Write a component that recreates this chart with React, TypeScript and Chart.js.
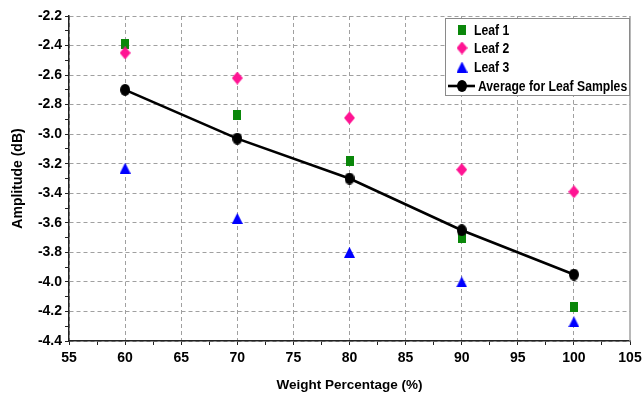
import React, { useEffect, useRef } from 'react';
import { Chart, registerables } from 'chart.js';

Chart.register(...registerables);

// ---- data ----
const weights = [60, 70, 80, 90, 100];
const leaf1 = [-2.39, -2.87, -3.18, -3.7, -4.17];
const leaf2 = [-2.45, -2.62, -2.89, -3.24, -3.39];
const leaf3 = [-3.23, -3.57, -3.8, -4.0, -4.27];
const average = [-2.7, -3.03, -3.3, -3.65, -3.95];
const seriesNames = ['Leaf 1', 'Leaf 2', 'Leaf 3', 'Average for Leaf Samples'];
const xTitle = 'Weight Percentage (%)';
const yTitle = 'Amplitude (dB)';
const xMin = 55;
const xMax = 105;
const xMajor = 5;
const xMinor = 2.5;
const yMin = -4.4;
const yMax = -2.2;
const yMajor = 0.2;
const yMinor = 0.1;

const FONT = '"Liberation Sans", Arial, sans-serif';
const GRID = '#a0a0a0';

const isMultiple = (v: number, step: number) => {
  const r = v / step;
  return Math.abs(r - Math.round(r)) < 1e-6;
};

const makeTicks = (min: number, max: number, step: number) => {
  const out: { value: number }[] = [];
  const n = Math.round((max - min) / step);
  for (let i = 0; i <= n; i++) out.push({ value: +(min + i * step).toFixed(4) });
  return out;
};

const toPts = (ys: number[]) => weights.map((x, i) => ({ x, y: ys[i] }));

function makeMarker(shape: string, w: number, h: number, color: string): HTMLCanvasElement {
  const c = document.createElement('canvas');
  c.width = w;
  c.height = h;
  const ctx = c.getContext('2d')!;
  ctx.fillStyle = color;
  ctx.beginPath();
  if (shape === 'square') {
    ctx.rect(0, 0, w, h);
  } else if (shape === 'diamond') {
    ctx.moveTo(w / 2, 0);
    ctx.lineTo(w, h / 2);
    ctx.lineTo(w / 2, h);
    ctx.lineTo(0, h / 2);
    ctx.closePath();
  } else if (shape === 'triangle') {
    ctx.moveTo(w / 2, 0);
    ctx.lineTo(w, h);
    ctx.lineTo(0, h);
    ctx.closePath();
  } else {
    ctx.ellipse(w / 2, h / 2, w / 2, h / 2, 0, 0, Math.PI * 2);
  }
  ctx.fill();
  return c;
}

const overlayPlugin = {
  id: 'overlay',
  afterDatasetsDraw(chart: any) {
    const { ctx, chartArea } = chart;
    ctx.save();
    // solid right frame
    ctx.strokeStyle = GRID;
    ctx.lineWidth = 1.5;
    ctx.beginPath();
    ctx.moveTo(chartArea.right, chartArea.top);
    ctx.lineTo(chartArea.right, chartArea.bottom);
    ctx.stroke();

    // legend box
    const bx = chartArea.right - 185;
    const by = chartArea.top + 2;
    const bw = 184;
    const bh = 77;
    ctx.fillStyle = '#ffffff';
    ctx.fillRect(bx, by, bw, bh);
    ctx.strokeStyle = '#8a8a8a';
    ctx.lineWidth = 1;
    ctx.strokeRect(bx + 0.5, by + 0.5, bw, bh);

    const rowY = [by + 12, by + 30, by + 49, by + 68];
    chart.data.datasets.forEach((ds: any, i: number) => {
      const y = rowY[i];
      const sx = bx + 17;
      if (ds.showLine) {
        ctx.strokeStyle = ds.borderColor;
        ctx.lineWidth = ds.borderWidth;
        ctx.beginPath();
        ctx.moveTo(bx + 3, y);
        ctx.lineTo(bx + 30, y);
        ctx.stroke();
      }
      const img = ds.pointStyle as HTMLCanvasElement;
      ctx.drawImage(img, sx - img.width / 2, y - img.height / 2);
      const tx = ds.showLine ? bx + 33 : bx + 29;
      ctx.save();
      ctx.font = `bold 14px ${FONT}`;
      ctx.fillStyle = '#000';
      ctx.textBaseline = 'middle';
      ctx.translate(tx, y);
      ctx.scale(0.87, 1);
      ctx.fillText(ds.label, 0, 1);
      ctx.restore();
    });
    ctx.restore();
  },
};

export default function App() {
  const ref = useRef<HTMLCanvasElement | null>(null);

  useEffect(() => {
    if (!ref.current) return;
    const sq = makeMarker('square', 8, 10, '#0a870a');
    const dia = makeMarker('diamond', 11, 13, '#ff1493');
    const tri = makeMarker('triangle', 11, 11, '#0000ff');
    const ell = makeMarker('ellipse', 10, 12, '#000000');
    const chart = new Chart(ref.current, {
      type: 'scatter',
      data: {
        datasets: [
          {
            label: seriesNames[0],
            data: toPts(leaf1),
            pointStyle: sq,
            pointRadius: 5,
            showLine: false,
            order: 4,
          },
          {
            label: seriesNames[1],
            data: toPts(leaf2),
            pointStyle: dia,
            pointRadius: 6,
            showLine: false,
            order: 3,
          },
          {
            label: seriesNames[2],
            data: toPts(leaf3),
            pointStyle: tri,
            pointRadius: 6,
            showLine: false,
            order: 2,
          },
          {
            label: seriesNames[3],
            data: toPts(average),
            pointStyle: ell,
            pointRadius: 6,
            showLine: true,
            borderColor: '#000000',
            borderWidth: 2.6,
            order: 1,
          },
        ] as any,
      },
      options: {
        animation: false,
        responsive: false,
        devicePixelRatio: 1,
        layout: { padding: { top: 16, right: 13, left: 0, bottom: 0 } },
        plugins: {
          legend: { display: false },
          tooltip: { enabled: false },
        },
        scales: {
          x: {
            type: 'linear',
            min: xMin,
            max: xMax,
            afterBuildTicks: (s: any) => {
              s.ticks = makeTicks(xMin, xMax, xMinor);
            },
            afterFit: (s: any) => {
              s.height = 52;
              s.paddingRight = 0;
              s.paddingLeft = 0;
            },
            ticks: {
              autoSkip: false,
              maxRotation: 0,
              padding: 5,
              color: '#000',
              font: { family: FONT, size: 14, weight: 'bold' },
              callback: (v: any) => (isMultiple(Number(v), xMajor) ? String(v) : ''),
            },
            grid: {
              color: (c: any) =>
                c.tick && isMultiple(c.tick.value, xMajor) && c.tick.value < xMax ? GRID : 'rgba(0,0,0,0)',
              tickColor: '#222',
              tickLength: 4,
              lineWidth: 1,
            },
            border: { display: true, color: '#222', width: 1.5, dash: [4, 3] },
            title: {
              display: true,
              text: xTitle,
              color: '#000',
              font: { family: FONT, size: 13.5, weight: 'bold' },
              padding: { top: 2, bottom: 0 },
            },
          },
          y: {
            type: 'linear',
            min: yMin,
            max: yMax,
            afterBuildTicks: (s: any) => {
              s.ticks = makeTicks(yMin, yMax, yMinor);
            },
            afterFit: (s: any) => {
              s.width = 69;
              s.paddingTop = 0;
              s.paddingBottom = 0;
            },
            ticks: {
              autoSkip: false,
              padding: 3,
              color: '#000',
              font: { family: FONT, size: 14, weight: 'bold' },
              callback: (v: any) => (isMultiple(Number(v), yMajor) ? Number(v).toFixed(1) : ''),
            },
            grid: {
              color: (c: any) => (c.tick && isMultiple(c.tick.value, yMajor) ? GRID : 'rgba(0,0,0,0)'),
              tickColor: '#222',
              tickLength: 4,
              lineWidth: 1,
            },
            border: { display: true, color: '#222', width: 1.5, dash: [4, 3] },
            title: {
              display: true,
              text: yTitle,
              color: '#000',
              font: { family: FONT, size: 14, weight: 'bold' },
              padding: { top: 10, bottom: 0 },
            },
          },
        },
      },
      plugins: [overlayPlugin],
    } as any);
    return () => chart.destroy();
  }, []);

  return (
    <div style={{ position: 'absolute', left: 0, top: 0, width: 643, height: 393, background: '#fff' }}>
      <canvas ref={ref} width={643} height={393} />
    </div>
  );
}
